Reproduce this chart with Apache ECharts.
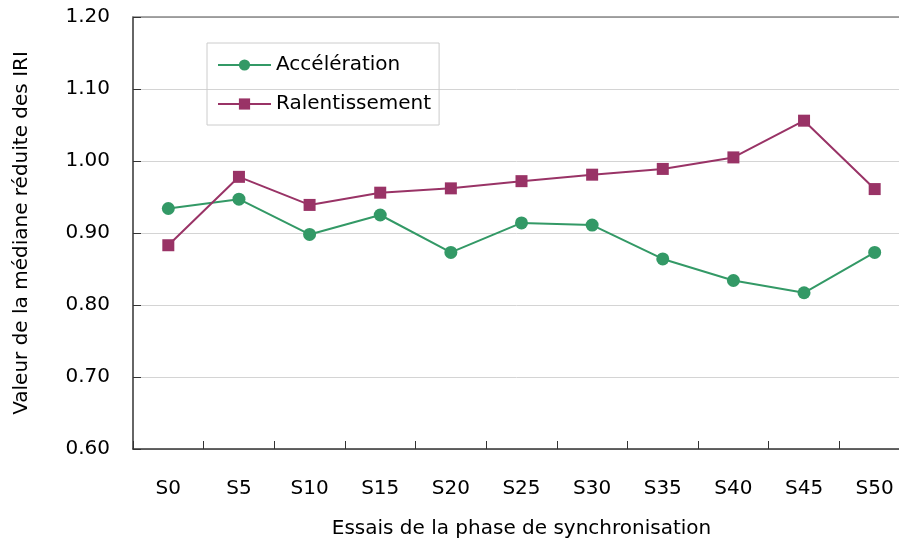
<!DOCTYPE html>
<html>
<head>
<meta charset="utf-8">
<script src="https://cdn.jsdelivr.net/npm/echarts@6/dist/echarts.min.js"></script>
<style>
  html, body { margin: 0; padding: 0; background: #fff; }
  #chart { width: 899px; height: 541px; }
</style>
</head>
<body>
<div id="chart"></div>
<script>
// categories (essais)
var categories = ["S0", "S5", "S10", "S15", "S20", "S25", "S30", "S35", "S40", "S45", "S50"];
// valeurs
var acceleration = [0.934, 0.947, 0.898, 0.925, 0.873, 0.914, 0.911, 0.864, 0.834, 0.817, 0.873];
var ralentissement = [0.883, 0.978, 0.939, 0.956, 0.962, 0.972, 0.981, 0.989, 1.005, 1.056, 0.961];

var font = "'Comic Sans MS', 'DejaVu Sans', sans-serif";

var chart = echarts.init(document.getElementById("chart"));
chart.setOption({
  animation: false,
  textStyle: { fontFamily: font },
  grid: {
    left: 133, top: 17, right: -11, bottom: 92,
    containLabel: false,
    outerBoundsMode: "none"
  },
  legend: {
    left: 207,
    top: 43,
    orient: "vertical",
    padding: [12, 8, 11, 10],
    itemGap: 19,
    itemWidth: 53,
    itemHeight: 14,
    borderColor: "#cccccc",
    borderWidth: 1,
    textStyle: { fontFamily: font, fontSize: 20, color: "#000", lineHeight: 20 },
    data: ["Accélération", "Ralentissement"]
  },
  xAxis: [
    {
      type: "category",
      data: categories,
      boundaryGap: true,
      name: "Essais de la phase de synchronisation",
      nameLocation: "middle",
      nameGap: 70,
      nameTextStyle: { fontFamily: font, fontSize: 20, color: "#000" },
      axisLine: { lineStyle: { color: "#333", width: 1.5 } },
      axisTick: { show: true, inside: true, length: 8, lineStyle: { color: "#333", width: 1 } },
      axisLabel: { margin: 30, fontSize: 20, color: "#000", fontFamily: font },
      splitLine: { show: false }
    },
    {
      type: "category",
      position: "top",
      data: categories,
      axisLine: { lineStyle: { color: "#888", width: 1.5 } },
      axisTick: { show: false },
      axisLabel: { show: false },
      splitLine: { show: false }
    }
  ],
  yAxis: {
    type: "value",
    min: 0.6,
    max: 1.2,
    interval: 0.1,
    name: "Valeur de la médiane réduite des IRI",
    nameLocation: "middle",
    nameGap: 101,
    nameRotate: 90,
    nameTextStyle: { fontFamily: font, fontSize: 20, color: "#000" },
    axisLine: { show: true, lineStyle: { color: "#333", width: 1.5 } },
    axisTick: { show: true, inside: true, length: 8, lineStyle: { color: "#333" } },
    axisLabel: {
      margin: 23,
      fontSize: 20,
      color: "#000",
      fontFamily: font,
      formatter: function (v) { return v.toFixed(2); }
    },
    splitLine: { show: true, lineStyle: { color: "#d4d4d4", width: 1 } }
  },
  series: [
    {
      name: "Accélération",
      type: "line",
      data: acceleration,
      symbol: "circle",
      symbolSize: 13,
      color: "#339966",
      lineStyle: { width: 2, color: "#339966" },
      itemStyle: { color: "#339966" }
    },
    {
      name: "Ralentissement",
      type: "line",
      data: ralentissement,
      symbol: "rect",
      symbolSize: 12,
      color: "#993366",
      lineStyle: { width: 2, color: "#993366" },
      itemStyle: { color: "#993366" }
    }
  ]
});
</script>
</body>
</html>
